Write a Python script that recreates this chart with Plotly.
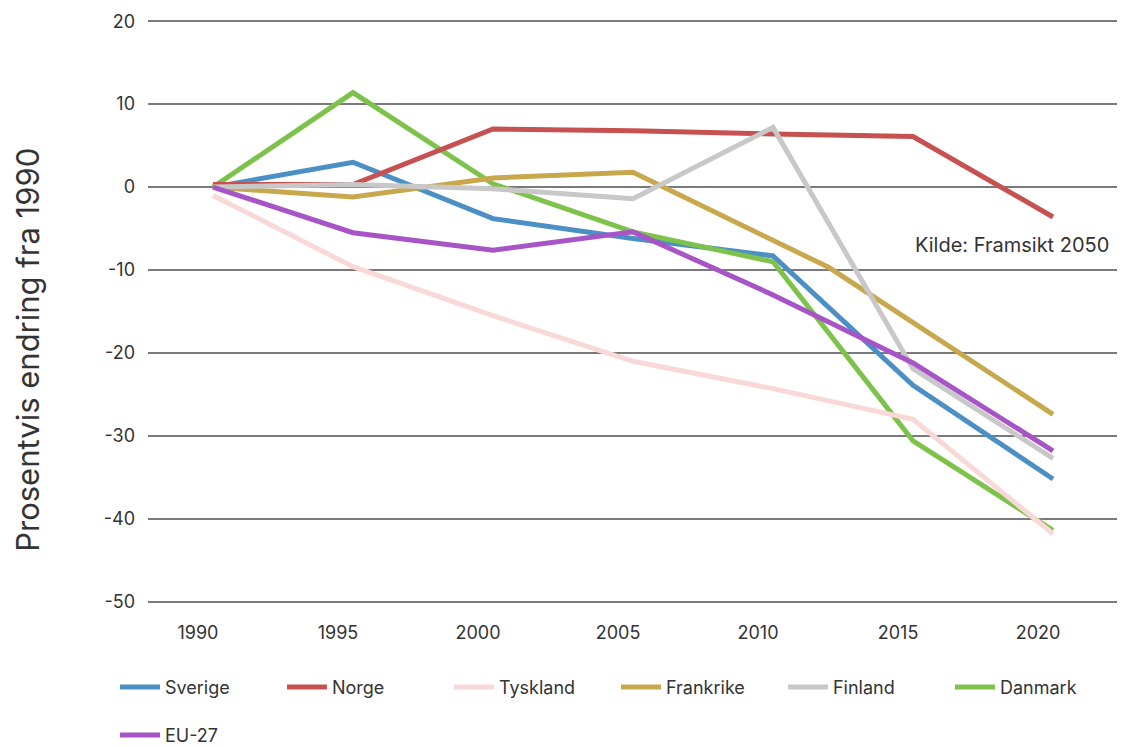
import plotly.graph_objects as go

years = [1990, 1995, 2000, 2005, 2010, 2015, 2020]
tick_labels = ["1990", "1995", "2000", "2005", "2010", "2015", "2020"]
y_ticks = [20, 10, 0, -10, -20, -30, -40, -50]
y_tick_labels = ["20", "10", "0", "-10", "-20", "-30", "-40", "-50"]

sverige = [0, 3.0, -3.8, -6.2, -8.3, -23.9, -35.2]
norge = [0.3, 0.3, 7.0, 6.8, 6.4, 6.1, -3.6]
tyskland = [-1.0, -9.6, -15.5, -21.0, -24.3, -28.0, -41.8]
frankrike_years = [1990, 1995, 2000, 2005, 2012, 2020]
frankrike = [0, -1.2, 1.1, 1.8, -9.7, -27.4]
finland = [0, 0.3, -0.2, -1.4, 7.2, -21.9, -32.7]
danmark = [0, 11.4, 0.4, -5.4, -9.0, -30.6, -41.4]
eu27 = [0, -5.5, -7.6, -5.4, -13.0, -21.2, -31.8]

colors = {
    "Sverige": "#4b8fc4",
    "Norge": "#c65150",
    "Tyskland": "#f9d9d7",
    "Frankrike": "#c8a84d",
    "Finland": "#c8c8c8",
    "Danmark": "#7dc24b",
    "EU-27": "#a654c6",
}

series = {
    "Sverige": (years, sverige, 1),
    "Norge": (years, norge, 2),
    "Tyskland": (years, tyskland, 3),
    "Frankrike": (frankrike_years, frankrike, 4),
    "Finland": (years, finland, 5),
    "Danmark": (years, danmark, 6),
    "EU-27": (years, eu27, 7),
}

draw_order = ["Sverige", "Danmark", "Norge", "Tyskland", "Frankrike", "Finland", "EU-27"]

fig = go.Figure()
for name in draw_order:
    xs, ys, rank = series[name]
    fig.add_trace(go.Scatter(
        x=xs, y=ys, name=name, mode="lines",
        line=dict(color=colors[name], width=5),
        legendrank=rank,
        legend="legend2" if name == "EU-27" else "legend",
        hoverinfo="skip",
    ))

font_family = "Inter, Lato, sans-serif"

fig.add_annotation(
    x=2015, y=-7.0, xref="x", yref="y", text="Kilde: Framsikt 2050",
    showarrow=False, xanchor="left", yanchor="middle",
    font=dict(family=font_family, size=20, color="#333333"),
)

fig.add_annotation(
    x=-0.123, y=0.434, xref="paper", yref="paper",
    text="Prosentvis endring fra 1990", textangle=-90,
    showarrow=False, xanchor="center", yanchor="middle",
    font=dict(family=font_family, size=31, color="#333333"),
)

legend_common = dict(
    orientation="h", xanchor="left", yanchor="top",
    font=dict(family=font_family, size=18, color="#333333"),
    entrywidth=112, entrywidthmode="pixels", itemwidth=40,
    bgcolor="rgba(0,0,0,0)",
)

fig.update_layout(
    width=1117, height=739,
    margin=dict(l=140, r=0, t=12, b=144, autoexpand=False),
    paper_bgcolor="white", plot_bgcolor="white",
    font=dict(family=font_family, size=18, color="#333333"),
    showlegend=True,
    legend=dict(x=-0.0338, y=-0.113, **legend_common),
    legend2=dict(x=-0.0338, y=-0.195, **legend_common),
    xaxis=dict(
        range=[1987.68, 2022.57], automargin=False,
        tickvals=years, ticktext=tick_labels,
        showgrid=False, zeroline=False, showline=False,
        ticks="", ticklabelshift=-15, ticklabelstandoff=17,
        tickfont=dict(family=font_family, size=18, color="#333333"),
    ),
    yaxis=dict(
        range=[-50.15, 20.15], automargin=False,
        tickvals=y_ticks, ticktext=y_tick_labels,
        showgrid=True, gridcolor="#7a7a7a", gridwidth=1.5,
        zeroline=False, showline=False, ticks="",
        ticklabelstandoff=12,
        tickfont=dict(family=font_family, size=18, color="#333333"),
    ),
)

fig.write_html("out.html")
